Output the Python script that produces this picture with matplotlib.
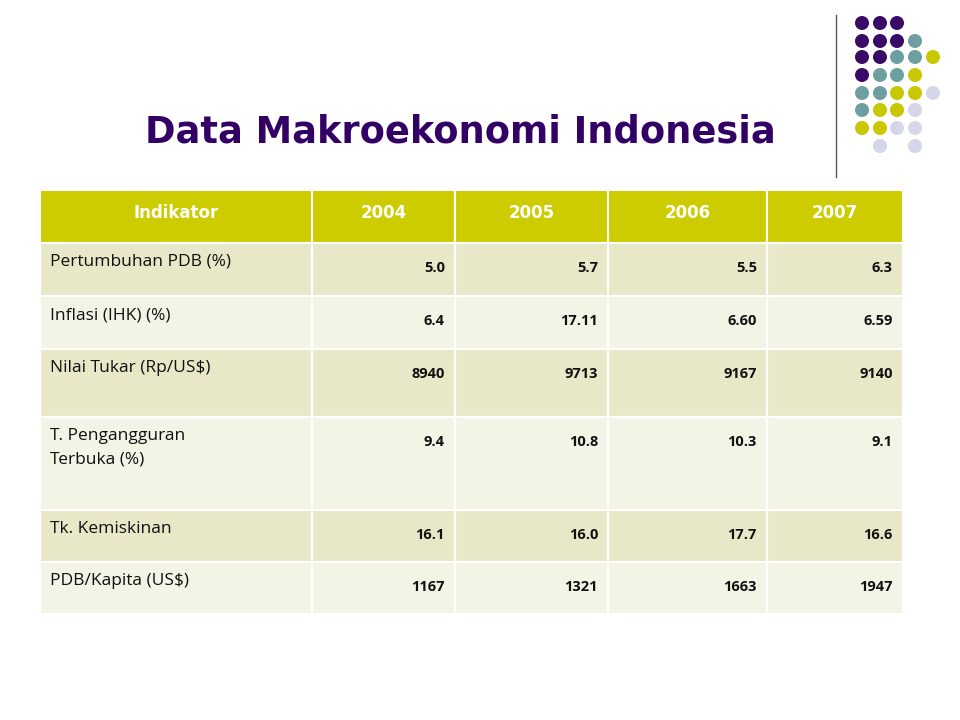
import matplotlib.pyplot as plt
from matplotlib.patches import Rectangle, Circle

plt.switch_backend('Agg')

# table data
headers = ["Indikator", "2004", "2005", "2006", "2007"]
indicators = ["Pertumbuhan PDB (%)", "Inflasi (IHK) (%)", "Nilai Tukar (Rp/US$)",
              "T. Pengangguran\nTerbuka (%)", "Tk. Kemiskinan", "PDB/Kapita (US$)"]
values = [
    ["5.0", "5.7", "5.5", "6.3"],
    ["6.4", "17.11", "6.60", "6.59"],
    ["8940", "9713", "9167", "9140"],
    ["9.4", "10.8", "10.3", "9.1"],
    ["16.1", "16.0", "17.7", "16.6"],
    ["1167", "1321", "1663", "1947"],
]

# decorative dot grid (P=purple, T=teal, Y=yellow, L=lavender)
dot_rows = ["PPP", "PPPT", "PPTTY", "PTTY", "TTYYL", "TYYL", "YYLL", ".L.L"]
dot_colors = {"P": "#3B0A66", "T": "#6E9FA0", "Y": "#C9C800", "L": "#D6D6EA"}

col_edges = [40, 312, 455, 608, 767, 903]
row_edges = [190, 243, 296, 349, 417, 510, 562, 614]
header_color = "#CCCC00"
row_colors = ["#E8E8C8", "#F4F4E6"]

fig = plt.figure(figsize=(9.6, 7.2), dpi=100)
ax = fig.add_axes([0, 0, 1, 1])
ax.set_xlim(0, 960)
ax.set_ylim(720, 0)
ax.axis("off")

ax.text(460, 132, "Data Makroekonomi Indonesia", ha="center", va="center",
        fontsize=26.5, fontweight="heavy", color="#330066", family="DejaVu Sans")

ax.plot([836, 836], [15, 177], color="#555555", lw=1)
dx = [862, 880, 897, 915, 933]
dy = [23, 41, 57, 75, 93, 110, 128, 146]
for r, row in enumerate(dot_rows):
    for c, ch in enumerate(row):
        if ch in dot_colors:
            ax.add_patch(Circle((dx[c], dy[r]), 7, color=dot_colors[ch], lw=0))

# cells
for r in range(len(row_edges) - 1):
    y0, y1 = row_edges[r], row_edges[r + 1]
    fill = header_color if r == 0 else row_colors[(r - 1) % 2]
    for c in range(len(col_edges) - 1):
        x0, x1 = col_edges[c], col_edges[c + 1]
        ax.add_patch(Rectangle((x0, y0), x1 - x0, y1 - y0, facecolor=fill,
                               edgecolor="white", lw=1.5))
        if r == 0:
            ax.text((x0 + x1) / 2, y0 + 23, headers[c], ha="center", va="center",
                    fontsize=12, fontweight="bold", color="white")
        elif c == 0:
            ax.text(x0 + 10, y0 + 11, indicators[r - 1], ha="left", va="top",
                    fontsize=12.5, color="#111111", family="Open Sans", linespacing=1.6)
        else:
            ax.text(x1 - 10, y0 + 25, values[r - 1][c - 1], ha="right", va="center",
                    fontsize=10.5, fontweight="bold", color="#111111", family="Open Sans")

fig.savefig("out.png", dpi=100)
